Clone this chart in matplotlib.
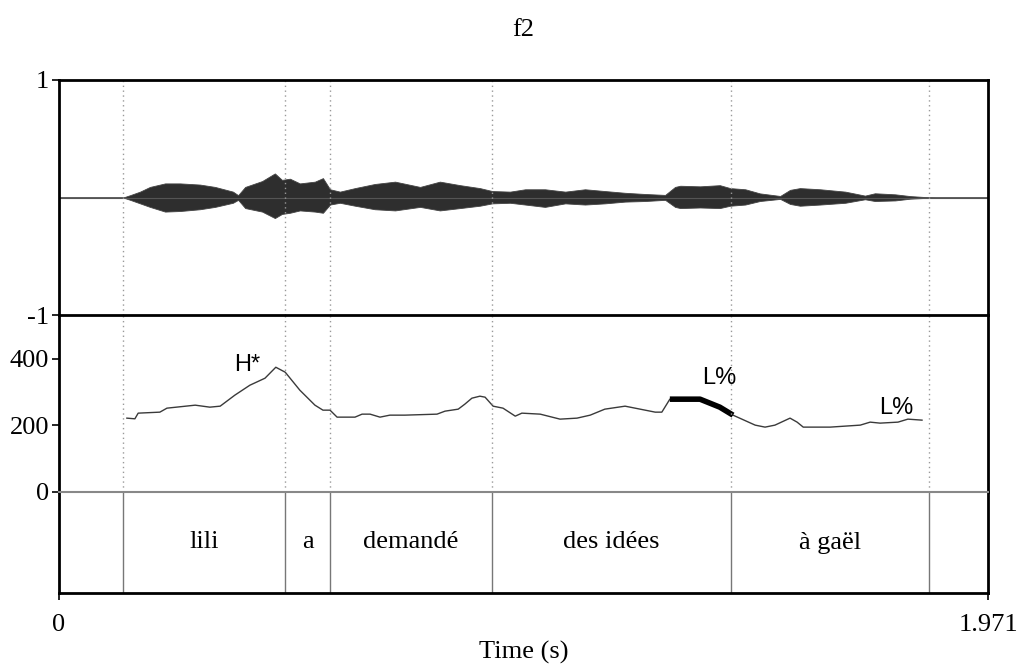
import matplotlib
matplotlib.use("Agg")
import matplotlib.pyplot as plt
import numpy as np

# ---- data ----
t_max = 1.971

# word boundaries (s) and labels of the text tier
bounds = [0.136, 0.4795, 0.575, 0.919, 1.426, 1.846]
words = ["lili", "a", "demandé", "des idées", "à gaël"]

# waveform amplitude envelope (upper / lower)
wave_t = [0.0, 0.136, 0.151, 0.172, 0.193, 0.225, 0.257, 0.299, 0.331, 0.369, 0.380,
          0.395, 0.431, 0.458, 0.473, 0.490, 0.511, 0.543, 0.560, 0.575, 0.596,
          0.628, 0.670, 0.713, 0.766, 0.808, 0.851, 0.893, 0.919, 0.957, 0.989,
          1.031, 1.074, 1.116, 1.158, 1.201, 1.243, 1.286, 1.307, 1.318, 1.360,
          1.402, 1.424, 1.456, 1.487, 1.530, 1.551, 1.572, 1.615, 1.668, 1.710,
          1.731, 1.774, 1.806, 1.837, 1.859, 1.971]
wave_hi = [0, 0, 0.02, 0.05, 0.09, 0.12, 0.12, 0.11, 0.09, 0.05, 0.02,
           0.09, 0.14, 0.205, 0.15, 0.16, 0.12, 0.135, 0.165, 0.07, 0.05,
           0.08, 0.115, 0.135, 0.09, 0.135, 0.105, 0.08, 0.055, 0.05, 0.07,
           0.07, 0.05, 0.07, 0.055, 0.04, 0.03, 0.022, 0.09, 0.10, 0.095,
           0.105, 0.08, 0.07, 0.035, 0.013, 0.065, 0.08, 0.07, 0.05, 0.016,
           0.036, 0.027, 0.012, 0.004, 0, 0]
wave_lo = [0, 0, -0.02, -0.05, -0.08, -0.12, -0.115, -0.10, -0.08, -0.045, -0.02,
           -0.09, -0.12, -0.175, -0.14, -0.13, -0.11, -0.12, -0.13, -0.06, -0.045,
           -0.07, -0.10, -0.11, -0.08, -0.11, -0.09, -0.07, -0.05, -0.045, -0.06,
           -0.08, -0.05, -0.06, -0.05, -0.035, -0.03, -0.02, -0.08, -0.09, -0.085,
           -0.09, -0.07, -0.06, -0.03, -0.012, -0.055, -0.07, -0.06, -0.045, -0.015,
           -0.03, -0.025, -0.01, -0.004, 0, 0]

# pitch contour (Hz)
f0_t = [0.144, 0.161, 0.168, 0.214, 0.229, 0.289, 0.320, 0.342, 0.373, 0.405,
        0.437, 0.460, 0.480, 0.511, 0.543, 0.560, 0.575, 0.590, 0.628, 0.643,
        0.660, 0.681, 0.702, 0.734, 0.802, 0.819, 0.847, 0.861, 0.876, 0.893,
        0.904, 0.921, 0.942, 0.968, 0.982, 1.021, 1.063, 1.099, 1.127, 1.158,
        1.201, 1.233, 1.265, 1.279, 1.296, 1.360, 1.402, 1.430, 1.477, 1.498,
        1.519, 1.551, 1.566, 1.579, 1.636, 1.700, 1.721, 1.742, 1.780, 1.801, 1.831]
f0_hz = [222, 220, 237, 240, 252, 261, 255, 258, 291, 321,
         342, 375, 360, 306, 261, 246, 246, 225, 225, 234,
         234, 225, 231, 231, 234, 243, 249, 264, 282, 288,
         285, 258, 252, 228, 237, 234, 219, 222, 231, 249,
         258, 249, 240, 240, 279, 279, 255, 231, 201, 195,
         201, 222, 210, 195, 195, 201, 210, 207, 210, 219, 216]
# highlighted (thick) stretch
thick_t = [1.296, 1.360, 1.402, 1.430]
thick_hz = [279, 279, 255, 231]

# tone labels
tones = ["H*", "L%", "L%"]
tone_t = [0.399, 1.400, 1.776]
tone_hz = [381, 343, 253]

f0_top = 532

serif = "Liberation Serif"
sans = "Liberation Sans"
fs = 19

fig = plt.figure(figsize=(10.2, 6.68), dpi=100)
L, R = 59/1020, 988/1020
y_top, y_mid, y_zero, y_bot = 1-80/668, 1-315/668, 1-492/668, 1-593/668
ax_w = fig.add_axes([L, y_mid, R-L, y_top-y_mid])
ax_p = fig.add_axes([L, y_zero, R-L, y_mid-y_zero], sharex=ax_w)
ax_t = fig.add_axes([L, y_bot, R-L, y_zero-y_bot], sharex=ax_w)

# waveform
ax_w.axhline(0, color="#555555", lw=0.8)
ax_w.fill_between(wave_t, wave_lo, wave_hi, color="#2e2e2e", lw=0.6, edgecolor="#444444")
ax_w.set_ylim(-1, 1)
ax_w.set_yticks([-1, 1])
ax_w.set_yticklabels(["-1", "1"])

# pitch
ax_p.plot(f0_t, f0_hz, color="#3a3a3a", lw=1.0)
ax_p.plot(thick_t, thick_hz, color="black", lw=4, solid_capstyle="butt")
for s, tt, hz in zip(tones, tone_t, tone_hz):
    ax_p.text(tt, hz, s, family=sans, fontsize=17, ha="center", va="center")
ax_p.set_ylim(0, f0_top)
ax_p.set_yticks([0, 200, 400])

# text tier
ax_t.set_ylim(0, 1)
ax_t.set_yticks([])
for b in bounds:
    ax_t.axvline(b, color="#777777", lw=1.0)
for i in range(len(words)):
    ax_t.text((bounds[i] + bounds[i+1]) / 2, 0.5, words[i], family=serif,
              fontsize=fs, ha="center", va="center")

for ax in (ax_w, ax_p):
    for b in bounds:
        ax.axvline(b, color="#999999", lw=1.0, ls=(0, (1, 2.5)))

ax_w.set_xlim(0, t_max)
for ax in (ax_w, ax_p, ax_t):
    for sp in ax.spines.values():
        sp.set_linewidth(2)
    ax.tick_params(direction="out", length=5, width=1.2, labelsize=fs, pad=2)
    for lab in ax.get_yticklabels():
        lab.set_family(serif)
ax_w.spines["bottom"].set_visible(False)
ax_p.spines["bottom"].set_visible(False)
ax_p.spines["top"].set_linewidth(2)
ax_t.spines["top"].set_color("#888888")
ax_t.spines["top"].set_linewidth(1.5)
ax_w.tick_params(axis="x", bottom=False, labelbottom=False)
ax_p.tick_params(axis="x", bottom=False, labelbottom=False)

ax_t.set_xticks([0, t_max])
ax_t.set_xticklabels(["0", "1.971"], family=serif)
ax_t.tick_params(axis="x", pad=10)
ax_t.set_xlabel("Time (s)", family=serif, fontsize=fs, labelpad=4)

fig.text((L+R)/2, 1-30/668, "f2", family=serif, fontsize=fs, ha="center", va="center")

fig.savefig("out.png", dpi=100)
